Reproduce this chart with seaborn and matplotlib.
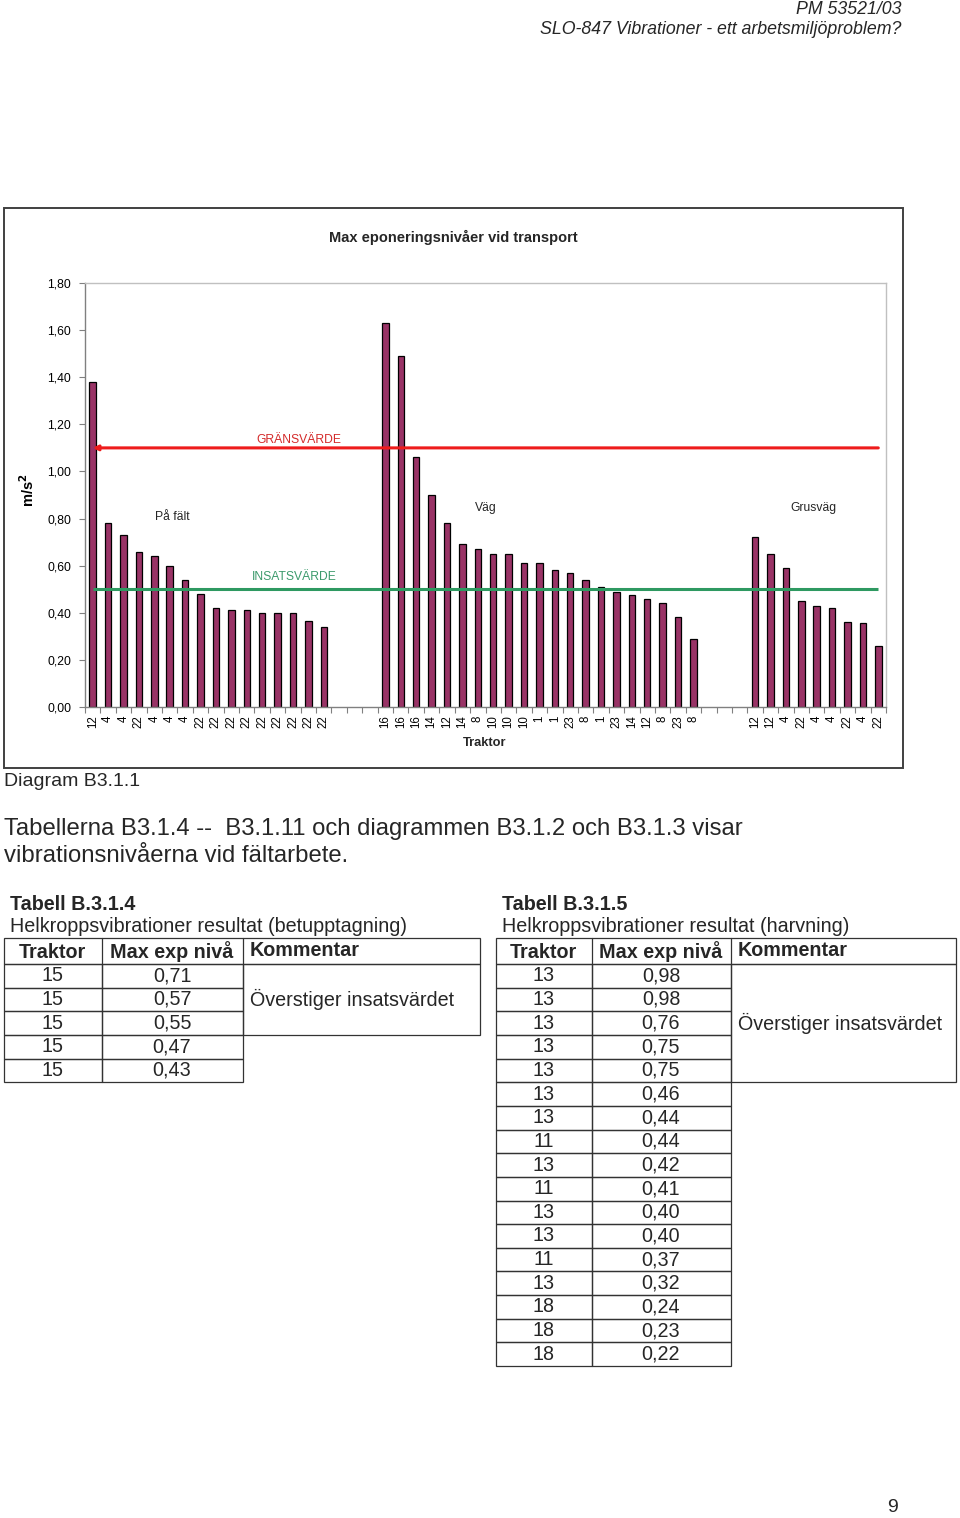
import numpy as np
import pandas as pd
import matplotlib
matplotlib.use("Agg")
import matplotlib.pyplot as plt
import seaborn as sns
from matplotlib.patches import Rectangle

# ---------------- data ----------------
falt_traktor = ["12", "4", "4", "22", "4", "4", "4", "22", "22", "22", "22", "22", "22", "22", "22", "22"]
falt_varde = [1.38, 0.78, 0.73, 0.66, 0.64, 0.60, 0.54, 0.48, 0.42, 0.41, 0.41, 0.40, 0.40, 0.40, 0.365, 0.34]

vag_traktor = ["16", "16", "16", "14", "12", "14", "8", "10", "10", "10", "1", "1", "23", "8", "1", "23",
               "14", "12", "8", "23", "8"]
vag_varde = [1.63, 1.49, 1.06, 0.90, 0.78, 0.69, 0.67, 0.65, 0.65, 0.61, 0.61, 0.58, 0.57, 0.54, 0.51, 0.49,
             0.475, 0.46, 0.44, 0.38, 0.29]

grus_traktor = ["12", "12", "4", "22", "4", "4", "22", "4", "22"]
grus_varde = [0.72, 0.65, 0.59, 0.45, 0.43, 0.42, 0.36, 0.355, 0.26]

group_names = ["På fält", "Väg", "Grusväg"]
gransvarde = 1.10
insatsvarde = 0.50
y_ticks = [0.0, 0.2, 0.4, 0.6, 0.8, 1.0, 1.2, 1.4, 1.6, 1.8]

# tables
t4_traktor = ["15", "15", "15", "15", "15"]
t4_varde = ["0,71", "0,57", "0,55", "0,47", "0,43"]
t5_traktor = ["13", "13", "13", "13", "13", "13", "13", "11", "13", "11", "13", "13", "11", "13", "18", "18", "18"]
t5_varde = ["0,98", "0,98", "0,76", "0,75", "0,75", "0,46", "0,44", "0,44", "0,42", "0,41", "0,40", "0,40",
            "0,37", "0,32", "0,24", "0,23", "0,22"]

# ---------------- build frame ----------------
GAP = 3
rows, tick_labels = [], []
slot = 0
for g, (tr, va) in enumerate([(falt_traktor, falt_varde), (vag_traktor, vag_varde), (grus_traktor, grus_varde)]):
    if g > 0:
        for _ in range(GAP):
            tick_labels.append("")
            slot += 1
    for t, v in zip(tr, va):
        rows.append({"slot": slot, "traktor": t, "varde": v})
        tick_labels.append(t)
        slot += 1
n_slots = slot
df = pd.DataFrame(rows)

# ---------------- figure ----------------
sns.set_theme(style="white")
plt.rcParams["font.family"] = ["Liberation Sans", "DejaVu Sans"]

W, H = 960, 1518
fig = plt.figure(figsize=(W / 100, H / 100), dpi=100)
fig.patch.set_facecolor("white")

page = fig.add_axes([0, 0, 1, 1], zorder=0)
page.set_xlim(0, W)
page.set_ylim(H, 0)
page.axis("off")

L, R, T, B = 85, 886, 283, 707
ax = fig.add_axes([L / W, 1 - B / H, (R - L) / W, (B - T) / H], zorder=2)
ax.set_facecolor("white")

sns.barplot(data=df, x="slot", y="varde", order=list(range(n_slots)), color="#993366",
            saturation=1, edgecolor="black", linewidth=0.9, width=0.42, ax=ax, errorbar=None)

ax.set_xlim(-0.5, n_slots - 0.5)
ax.set_ylim(0, 1.8)
ax.set_xticks(range(n_slots))
ax.set_xticklabels(tick_labels, rotation=90, fontsize=8.3, color="black")
ax.set_xticks(np.arange(-0.5, n_slots, 1), minor=True)
ax.tick_params(axis="x", which="major", length=0, pad=6)
ax.tick_params(axis="x", which="minor", length=4, color="#808080", width=0.8, direction="out", bottom=True)
ax.set_yticks(y_ticks)
ax.set_yticklabels([f"{v:.2f}".replace(".", ",") for v in y_ticks], fontsize=8.7, color="black")
ax.tick_params(axis="y", length=4, color="#808080", width=0.8, direction="out", left=True, pad=6)

for s in ["top", "right"]:
    ax.spines[s].set_color("#c0c0c0")
    ax.spines[s].set_linewidth(1.0)
for s in ["left", "bottom"]:
    ax.spines[s].set_color("#808080")
    ax.spines[s].set_linewidth(1.0)

ax.set_xlabel("")
ax.set_ylabel("m/s$^\\mathbf{2}$", fontsize=10.5, fontweight="bold", color="black")
ax.yaxis.set_label_coords((37 - L) / (R - L), (B - 490) / (B - T))
ax.text((485 - L) / (R - L), (B - 743) / (B - T), "Traktor", transform=ax.transAxes,
        ha="center", va="center", fontsize=9.3, fontweight="bold")
ax.text((453 - L) / (R - L), (B - 237) / (B - T), "Max eponeringsnivåer vid transport", transform=ax.transAxes,
        ha="center", va="center", fontsize=10.5, fontweight="bold")

# reference lines
ax.annotate("", xy=(0, gransvarde), xytext=(n_slots - 1, gransvarde),
            arrowprops=dict(arrowstyle="-|>", color="#ee1c1c", lw=2.2, mutation_scale=7, shrinkA=0, shrinkB=0),
            zorder=5)
ax.hlines(insatsvarde, 0, n_slots - 1, color="#2e9961", lw=2.2, zorder=5)
ax.text(13.4, gransvarde + 0.035, "GRÄNSVÄRDE", color="#d42a2a", fontsize=8.7, ha="center", va="center")
ax.text(13.1, insatsvarde + 0.052, "INSATSVÄRDE", color="#3c9a6c", fontsize=8.7, ha="center", va="center")

# group labels
ax.text(5.2, 0.806, group_names[0], fontsize=8.7, ha="center", va="center")
ax.text(25.5, 0.845, group_names[1], fontsize=8.7, ha="center", va="center")
ax.text(46.8, 0.845, group_names[2], fontsize=8.7, ha="center", va="center")

# chart frame
page.add_patch(Rectangle((4, 208), 899, 560, fill=False, edgecolor="#404040", lw=1.4))

# ---------------- page text ----------------
page.text(901, 9, "PM 53521/03", ha="right", va="center", fontsize=12.8, style="italic")
page.text(901, 30, "SLO-847 Vibrationer - ett arbetsmiljöproblem?", ha="right", va="center",
          fontsize=12.8, style="italic")
page.text(4, 781, "Diagram B3.1.1", ha="left", va="center", fontsize=14)
page.text(4, 829, "Tabellerna B3.1.4 --  B3.1.11 och diagrammen B3.1.2 och B3.1.3 visar", ha="left",
          va="center", fontsize=17.2)
page.text(4, 856, "vibrationsnivåerna vid fältarbete.", ha="left", va="center", fontsize=17.2)
page.text(893, 1507, "9", ha="center", va="center", fontsize=14)

# ---------------- tables ----------------
FS = 14.2


def draw_table(xs, top, title, subtitle, traktor, varde, comment, comment_rows):
    x0, x1, x2, x3 = xs
    hh, rh = 26, 23.65
    lc, lw = "#333333", 0.9
    page.text(x0 + 6, top - 34, title, ha="left", va="center", fontsize=FS, fontweight="bold")
    page.text(x0 + 6, top - 12, subtitle, ha="left", va="center", fontsize=FS)
    # header
    page.add_patch(Rectangle((x0, top), x3 - x0, hh, fill=False, edgecolor=lc, lw=lw))
    page.plot([x1, x1], [top, top + hh], color=lc, lw=lw)
    page.plot([x2, x2], [top, top + hh], color=lc, lw=lw)
    hy = top + hh / 2 + 1
    page.text((x0 + x1) / 2, hy, "Traktor", ha="center", va="center", fontsize=FS, fontweight="bold")
    page.text((x1 + x2) / 2, hy, "Max exp nivå", ha="center", va="center", fontsize=FS, fontweight="bold")
    page.text(x2 + 7, hy - 1, "Kommentar", ha="left", va="center", fontsize=FS, fontweight="bold")
    y = top + hh
    for t, v in zip(traktor, varde):
        page.add_patch(Rectangle((x0, y), x1 - x0, rh, fill=False, edgecolor=lc, lw=lw))
        page.add_patch(Rectangle((x1, y), x2 - x1, rh, fill=False, edgecolor=lc, lw=lw))
        page.text((x0 + x1) / 2, y + rh / 2, t, ha="center", va="center", fontsize=FS)
        page.text((x1 + x2) / 2, y + rh / 2, v, ha="center", va="center", fontsize=FS)
        y += rh
    cy0 = top + hh
    cy1 = cy0 + comment_rows * rh
    page.add_patch(Rectangle((x2, cy0), x3 - x2, cy1 - cy0, fill=False, edgecolor=lc, lw=lw))
    page.text(x2 + 7, (cy0 + cy1) / 2, comment, ha="left", va="center", fontsize=FS)


draw_table((4, 101.5, 242.5, 480), 938, "Tabell B.3.1.4", "Helkroppsvibrationer resultat (betupptagning)",
           t4_traktor, t4_varde, "Överstiger insatsvärdet", 3)
draw_table((496, 591.5, 730.5, 956), 938, "Tabell B.3.1.5", "Helkroppsvibrationer resultat (harvning)",
           t5_traktor, t5_varde, "Överstiger insatsvärdet", 5)

fig.savefig("out.png", dpi=100, facecolor="white")
